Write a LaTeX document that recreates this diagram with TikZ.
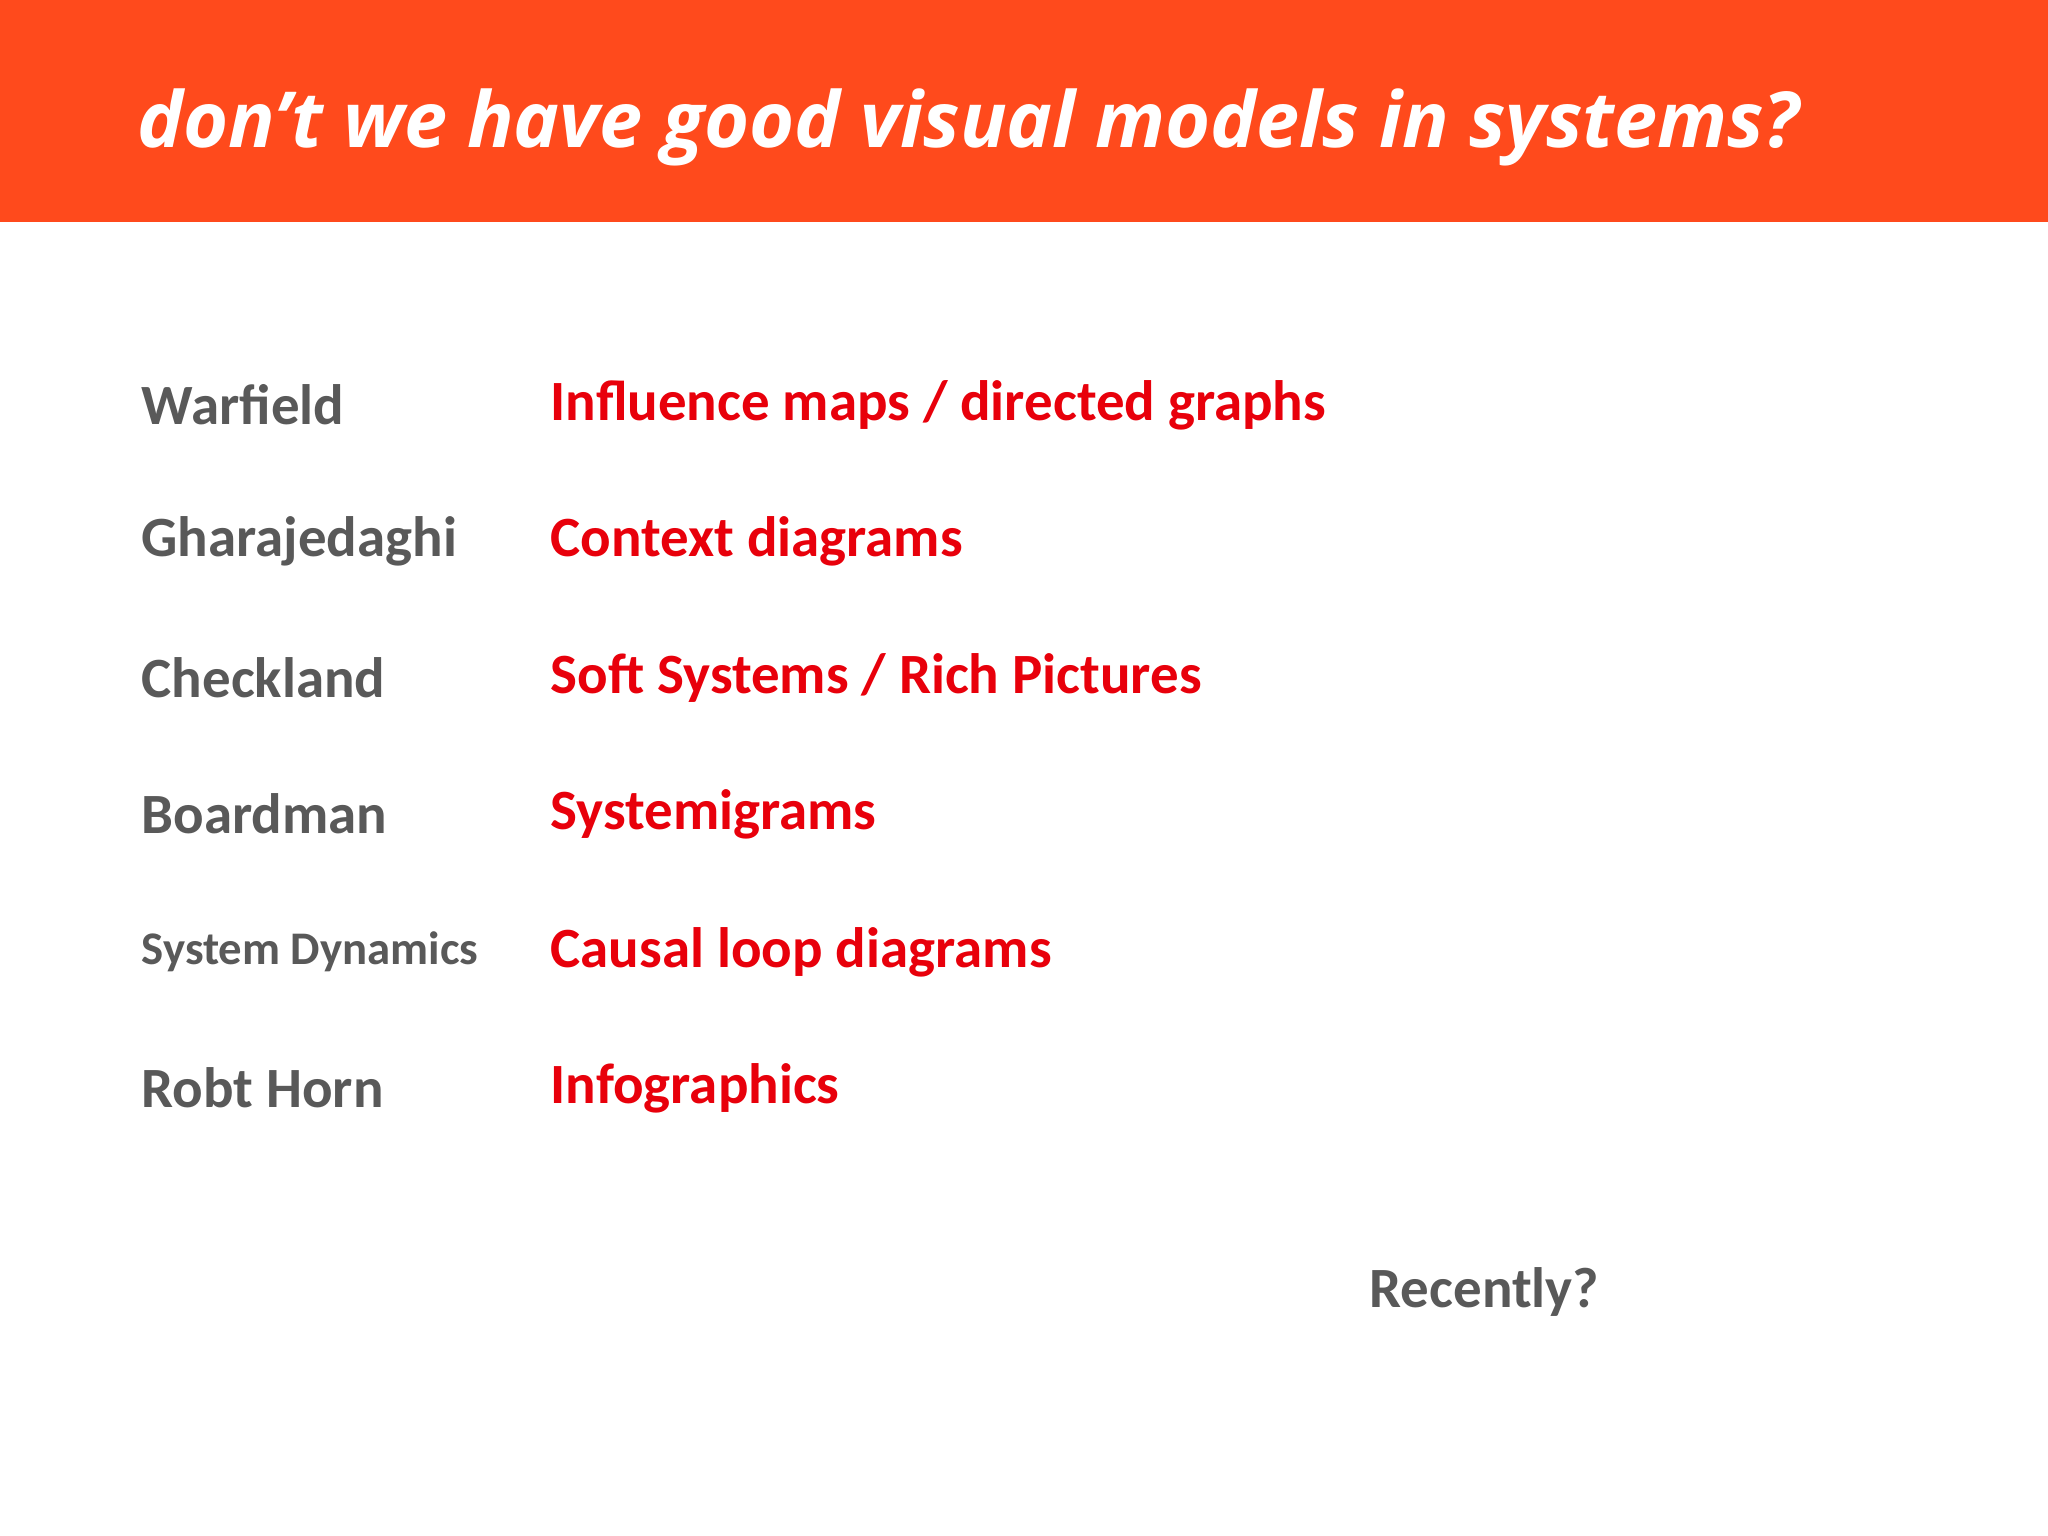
\documentclass[tikz,border=0pt]{standalone}
\usepackage{fontspec}
\setmainfont{Carlito}
\newfontfamily\titlefont{Open Sans}
\definecolor{hdr}{HTML}{FF4A1C}
\definecolor{gr}{HTML}{595959}
\definecolor{rd}{HTML}{E8000B}
\begin{document}
\begin{tikzpicture}[x=1cm,y=-1cm,
  who/.style={anchor=west,text=gr,font=\bfseries\fontsize{16.2}{19}\selectfont,inner sep=0pt},
  what/.style={anchor=west,text=rd,font=\bfseries\fontsize{16.2}{19}\selectfont,inner sep=0pt}]
\useasboundingbox (0,0) rectangle (20.48,15.36);
\fill[white] (0,0) rectangle (20.48,15.36);
\fill[hdr] (0,0) rectangle (20.48,2.22);
\node[anchor=west,text=white,font=\titlefont\bfseries\itshape\fontsize{22}{26}\selectfont,inner sep=0pt] (title) at (1.37,1.27) {don’t we have good visual models in systems?};
\node[who] (w1) at (1.41,4.05) {Warfield};
\node[what] (m1) at (5.50,4.05) {Influence maps / directed graphs};
\node[who] (w2) at (1.41,5.41) {Gharajedaghi};
\node[what] (m2) at (5.50,5.41) {Context diagrams};
\node[who] (w3) at (1.41,6.78) {Checkland};
\node[what] (m3) at (5.50,6.78) {Soft Systems / Rich Pictures};
\node[who] (w4) at (1.41,8.14) {Boardman};
\node[what] (m4) at (5.50,8.14) {Systemigrams};
\node[who,font=\bfseries\fontsize{13.3}{16}\selectfont] (w5) at (1.41,9.52) {System Dynamics};
\node[what] (m5) at (5.50,9.52) {Causal loop diagrams};
\node[who] (w6) at (1.41,10.88) {Robt Horn};
\node[what] (m6) at (5.50,10.88) {Infographics};
\node[who] (rec) at (13.69,12.92) {Recently?};
\end{tikzpicture}
\end{document}
